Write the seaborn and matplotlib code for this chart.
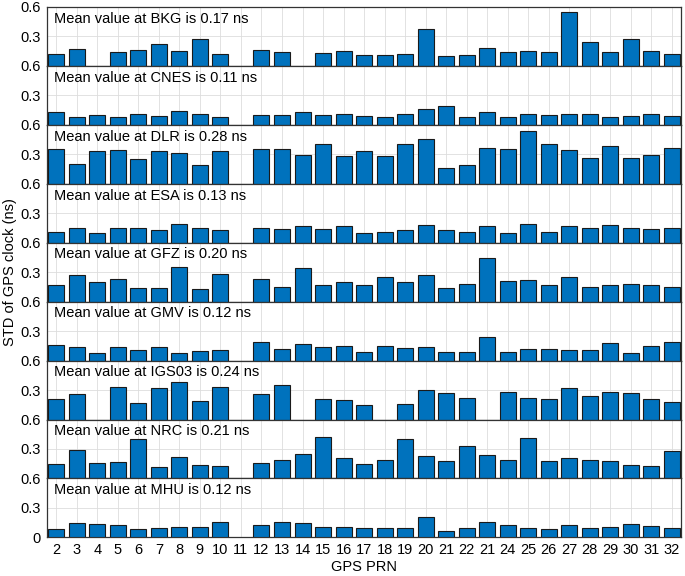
import numpy as np
import pandas as pd
import matplotlib
matplotlib.use('Agg')
import matplotlib.pyplot as plt
import seaborn as sns

# PRN 标签 (原图中 23 的位置被标成了 21)
prnLabels = ['2', '3', '4', '5', '6', '7', '8', '9', '10', '11', '12', '13', '14', '15', '16',
             '17', '18', '19', '20', '21', '22', '21', '24', '25', '26', '27', '28', '29', '30', '31', '32']

centers = ['BKG', 'CNES', 'DLR', 'ESA', 'GFZ', 'GMV', 'IGS03', 'NRC', 'MHU']
means = ['0.17', '0.11', '0.28', '0.13', '0.20', '0.12', '0.24', '0.21', '0.12']

nan = np.nan
bkg = [0.12, 0.17, nan, 0.14, 0.16, 0.22, 0.15, 0.27, 0.12, nan, 0.16, 0.14, nan, 0.13, 0.15,
       0.11, 0.11, 0.12, 0.38, 0.10, 0.11, 0.18, 0.14, 0.15, 0.14, 0.545, 0.24, 0.14, 0.27, 0.15, 0.12]
cnes = [0.127, 0.08, 0.10, 0.08, 0.105, 0.09, 0.137, 0.115, 0.08, nan, 0.10, 0.10, 0.127, 0.10, 0.105,
        0.09, 0.08, 0.115, 0.165, 0.19, 0.08, 0.127, 0.08, 0.105, 0.10, 0.115, 0.105, 0.08, 0.09, 0.105, 0.09]
dlr = [0.35, 0.206, 0.33, 0.34, 0.247, 0.33, 0.315, 0.19, 0.33, nan, 0.35, 0.35, 0.29, 0.40, 0.28,
       0.33, 0.28, 0.40, 0.46, 0.165, 0.19, 0.36, 0.35, 0.54, 0.40, 0.34, 0.267, 0.387, 0.267, 0.29, 0.36]
esa = [0.106, 0.154, 0.096, 0.147, 0.154, 0.127, 0.195, 0.147, 0.127, nan, 0.147, 0.137, 0.165, 0.137, 0.165,
       0.103, 0.113, 0.127, 0.178, 0.127, 0.113, 0.171, 0.103, 0.188, 0.113, 0.165, 0.154, 0.178, 0.154, 0.137, 0.154]
gfz = [0.165, 0.267, 0.20, 0.23, 0.137, 0.137, 0.353, 0.13, 0.285, nan, 0.23, 0.147, 0.34, 0.165, 0.20,
       0.171, 0.254, 0.20, 0.267, 0.137, 0.18, 0.44, 0.206, 0.216, 0.171, 0.247, 0.144, 0.171, 0.18, 0.165, 0.154]
gmv = [0.154, 0.134, 0.082, 0.134, 0.11, 0.14, 0.075, 0.093, 0.103, nan, 0.185, 0.12, 0.168, 0.134, 0.144,
       0.089, 0.144, 0.13, 0.14, 0.089, 0.089, 0.24, 0.089, 0.117, 0.117, 0.103, 0.103, 0.175, 0.082, 0.144, 0.185]
igs03 = [0.206, 0.257, nan, 0.33, 0.165, 0.322, 0.38, 0.189, 0.33, nan, 0.257, 0.35, nan, 0.206, 0.195,
         0.147, nan, 0.154, 0.305, 0.267, 0.223, nan, 0.278, 0.216, 0.206, 0.322, 0.243, 0.278, 0.267, 0.206, 0.178]
nrc = [0.144, 0.291, 0.154, 0.168, 0.40, 0.117, 0.219, 0.137, 0.127, nan, 0.161, 0.192, 0.247, 0.42, 0.206,
       0.144, 0.189, 0.40, 0.226, 0.175, 0.329, 0.237, 0.189, 0.408, 0.175, 0.206, 0.189, 0.175, 0.137, 0.123, 0.278]
mhu = [0.082, 0.144, 0.134, 0.123, 0.082, 0.10, 0.11, 0.11, 0.154, nan, 0.123, 0.154, 0.144, 0.11, 0.11,
       0.093, 0.093, 0.093, 0.21, 0.062, 0.093, 0.154, 0.123, 0.093, 0.082, 0.123, 0.093, 0.103, 0.134, 0.117, 0.093]

allStd = [bkg, cnes, dlr, esa, gfz, gmv, igs03, nrc, mhu]

plt.rcParams['font.family'] = ['Liberation Sans', 'DejaVu Sans']
plt.rcParams['font.size'] = 10.5

fig, axis = plt.subplots(9, 1, figsize=(6.85, 5.76), dpi=100, sharex=True)
fig.subplots_adjust(left=0.068, right=0.9935, top=0.988, bottom=0.067, hspace=0)

pos = list(range(len(prnLabels)))
for i, ax in enumerate(axis):
    df = pd.DataFrame({'pos': pos, 'std': allStd[i]})
    sns.barplot(data=df, x='pos', y='std', order=pos, color='#0072BD', saturation=1,
                width=0.78, edgecolor='#1a1a1a', linewidth=0.8, errorbar=None, ax=ax, zorder=3)
    ax.set_ylim(0, 0.6)
    ax.set_xlim(-0.47, 30.42)
    ax.set_yticks([0, 0.3, 0.6])
    if i == len(axis) - 1:
        ax.set_yticklabels(['0', '0.3', '0.6'])
    else:
        ax.set_yticklabels(['', '0.3', '0.6'])
    ax.set_xticks(pos)
    ax.set_xticklabels(prnLabels)
    ax.grid(True, color='#dddddd', linewidth=0.6, zorder=0)
    ax.set_axisbelow(True)
    ax.tick_params(length=0, pad=4, colors='#262626', labelcolor='black')
    for s in ax.spines.values():
        s.set_color('#333333')
        s.set_linewidth(0.9)
    ax.set_xlabel('')
    ax.set_ylabel('')
    ax.text(0.012, 0.8, 'Mean value at %s is %s ns' % (centers[i], means[i]),
            transform=ax.transAxes, va='center', ha='left', fontsize=10.5)

axis[-1].set_xlabel('GPS PRN', fontsize=10.5, labelpad=2)
fig.text(0.015, 0.528, 'STD of GPS clock (ns)', rotation=90, va='center', ha='center', fontsize=10.5)

plt.savefig('out.png', dpi=100)
